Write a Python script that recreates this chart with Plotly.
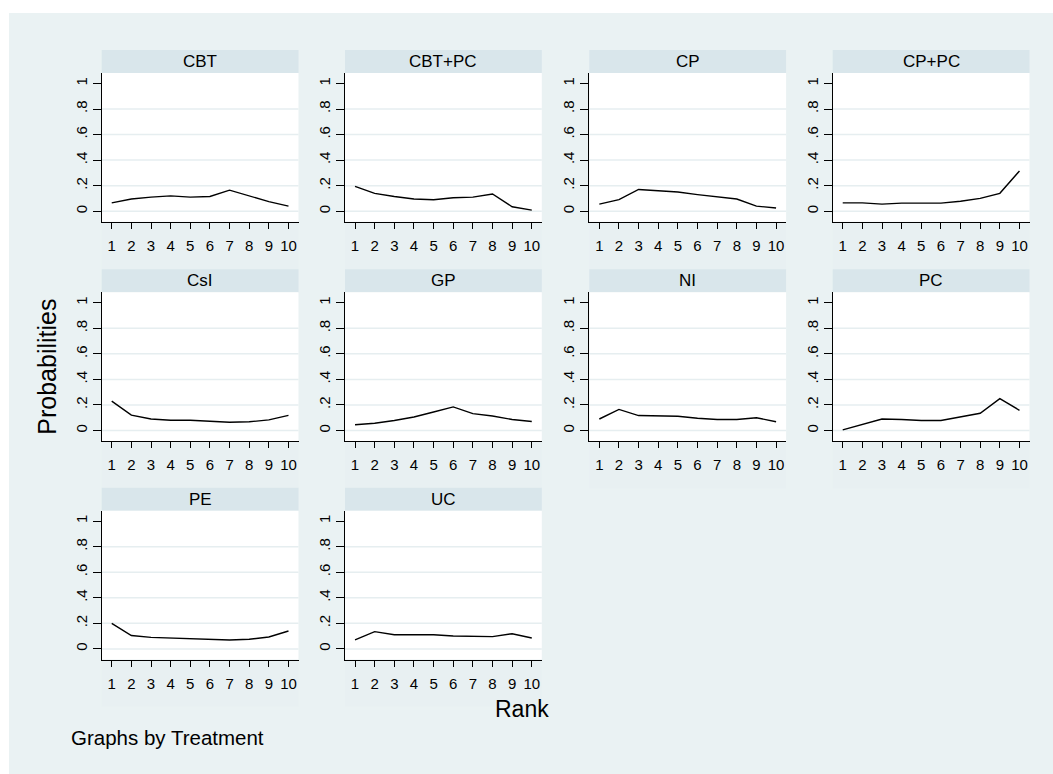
import plotly.graph_objects as go

# ---------------- data ----------------
treatments = ["CBT", "CBT+PC", "CP", "CP+PC", "CsI", "GP", "NI", "PC", "PE", "UC"]
ranks = [1, 2, 3, 4, 5, 6, 7, 8, 9, 10]

cbt    = [0.065, 0.095, 0.110, 0.120, 0.110, 0.115, 0.165, 0.120, 0.075, 0.040]
cbt_pc = [0.195, 0.140, 0.115, 0.095, 0.090, 0.105, 0.110, 0.135, 0.035, 0.008]
cp     = [0.055, 0.090, 0.170, 0.160, 0.150, 0.130, 0.110, 0.095, 0.040, 0.025]
cp_pc  = [0.065, 0.065, 0.055, 0.063, 0.063, 0.063, 0.078, 0.100, 0.140, 0.315]
csi    = [0.230, 0.120, 0.090, 0.080, 0.080, 0.075, 0.065, 0.068, 0.083, 0.118]
gp     = [0.045, 0.057, 0.078, 0.106, 0.145, 0.185, 0.132, 0.114, 0.086, 0.070]
ni     = [0.090, 0.165, 0.117, 0.112, 0.112, 0.096, 0.086, 0.086, 0.100, 0.068]
pc     = [0.005, 0.048, 0.090, 0.086, 0.078, 0.078, 0.104, 0.135, 0.250, 0.158]
pe     = [0.200, 0.105, 0.090, 0.085, 0.085, 0.080, 0.070, 0.075, 0.093, 0.140]
uc     = [0.070, 0.135, 0.111, 0.111, 0.111, 0.101, 0.096, 0.096, 0.119, 0.085]

series = [cbt, cbt_pc, cp, cp_pc, csi, gp, ni, pc, pe, uc]

y_ticks = [0, 0.2, 0.4, 0.6, 0.8, 1]
y_tick_labels = ["0", ".2", ".4", ".6", ".8", "1"]
grid_values = [0, 0.2, 0.4, 0.6, 0.8]
x_ticks = ranks

# ---------------- layout geometry (pixels) ----------------
W, H = 1053, 774
FONT = "Arial, Liberation Sans, sans-serif"
BG = "#EAF2F3"
PANEL_BG = "#E8F0F2"
STRIP = "#D9E6EB"
GRID = "#E6EEF0"

col_x0 = [101.7, 345.0, 589.3, 832.7]
panel_w = 196.8
row_top = [73.0, 292.3, 510.7]
panel_h = 148.8
strip_h = 23.0


def fx(px):
    return px / W


def fy(py):
    return 1 - py / H


fig = go.Figure()
shapes = []
annotations = []

# outer graph region
shapes.append(dict(type="rect", xref="paper", yref="paper", x0=fx(9), x1=1, y0=0, y1=fy(13),
                   fillcolor=BG, line=dict(width=0), layer="below"))

layout_axes = {}
for i, (name, vals) in enumerate(zip(treatments, series)):
    r, c = divmod(i, 4)
    k = i + 1
    xa = "x" if k == 1 else f"x{k}"
    ya = "y" if k == 1 else f"y{k}"
    x0p = col_x0[c]
    x1p = x0p + panel_w
    t = row_top[r]
    b = t + panel_h

    # subtle panel region
    shapes.append(dict(type="rect", xref="paper", yref="paper",
                       x0=fx(x0p), x1=fx(x1p), y0=fy(t - strip_h + 219), y1=fy(t - strip_h),
                       fillcolor=PANEL_BG, line=dict(width=0), layer="below"))
    # header strip
    shapes.append(dict(type="rect", xref="paper", yref="paper",
                       x0=fx(x0p), x1=fx(x1p), y0=fy(t), y1=fy(t - strip_h),
                       fillcolor=STRIP, line=dict(width=0), layer="below"))
    annotations.append(dict(text=name, xref="paper", yref="paper",
                            x=fx((x0p + x1p) / 2), y=fy(t - strip_h / 2),
                            xanchor="center", yanchor="middle", showarrow=False,
                            font=dict(family=FONT, size=17, color="black")))
    # white plot area
    shapes.append(dict(type="rect", xref=f"{xa} domain", yref=f"{ya} domain",
                       x0=0, x1=1, y0=0, y1=1, fillcolor="white",
                       line=dict(width=0), layer="below"))
    for gv in grid_values:
        shapes.append(dict(type="line", xref=f"{xa} domain", yref=ya,
                           x0=0, x1=1, y0=gv, y1=gv,
                           line=dict(color=GRID, width=1.5), layer="below"))

    fig.add_trace(go.Scatter(x=ranks, y=vals, mode="lines", xaxis=xa, yaxis=ya,
                             line=dict(color="black", width=1.4), showlegend=False,
                             hoverinfo="x+y"))

    xkey = "xaxis" if k == 1 else f"xaxis{k}"
    ykey = "yaxis" if k == 1 else f"yaxis{k}"
    layout_axes[xkey] = dict(domain=[fx(x0p), fx(x1p)], anchor=ya, range=[0.49, 10.51],
                             tickmode="array", tickvals=x_ticks,
                             ticks="outside", ticklen=6, tickwidth=1, tickcolor="black",
                             showline=True, linecolor="black", linewidth=1.2,
                             showgrid=False, zeroline=False, ticklabelstandoff=4,
                             tickfont=dict(family=FONT, size=15, color="black"))
    layout_axes[ykey] = dict(domain=[fy(b), fy(t)], anchor=xa, range=[-0.083, 1.082],
                             tickmode="array", tickvals=y_ticks, ticktext=y_tick_labels,
                             tickangle=-90,
                             ticks="outside", ticklen=8, tickwidth=1, tickcolor="black",
                             showline=True, linecolor="black", linewidth=1.2,
                             showgrid=False, zeroline=False,
                             tickfont=dict(family=FONT, size=15, color="black"))

annotations.append(dict(text="Rank", xref="paper", yref="paper", x=fx(521.7), y=fy(709.3),
                        xanchor="center", yanchor="middle", showarrow=False,
                        font=dict(family=FONT, size=23, color="black")))
annotations.append(dict(text="Probabilities", xref="paper", yref="paper", x=fx(46.7), y=fy(367),
                        xanchor="center", yanchor="middle", showarrow=False, textangle=-90,
                        font=dict(family=FONT, size=25, color="black")))
annotations.append(dict(text="Graphs by Treatment", xref="paper", yref="paper", x=fx(69), y=fy(737),
                        xanchor="left", yanchor="middle", showarrow=False,
                        font=dict(family=FONT, size=20.5, color="black")))

fig.update_layout(width=W, height=H, margin=dict(l=0, r=0, t=0, b=0),
                  paper_bgcolor="white", plot_bgcolor="rgba(0,0,0,0)",
                  shapes=shapes, annotations=annotations, showlegend=False,
                  **layout_axes)

fig.write_html("out.html", config={"displayModeBar": False},
               post_script="document.body.style.margin='0px';document.body.style.overflow='hidden';")
